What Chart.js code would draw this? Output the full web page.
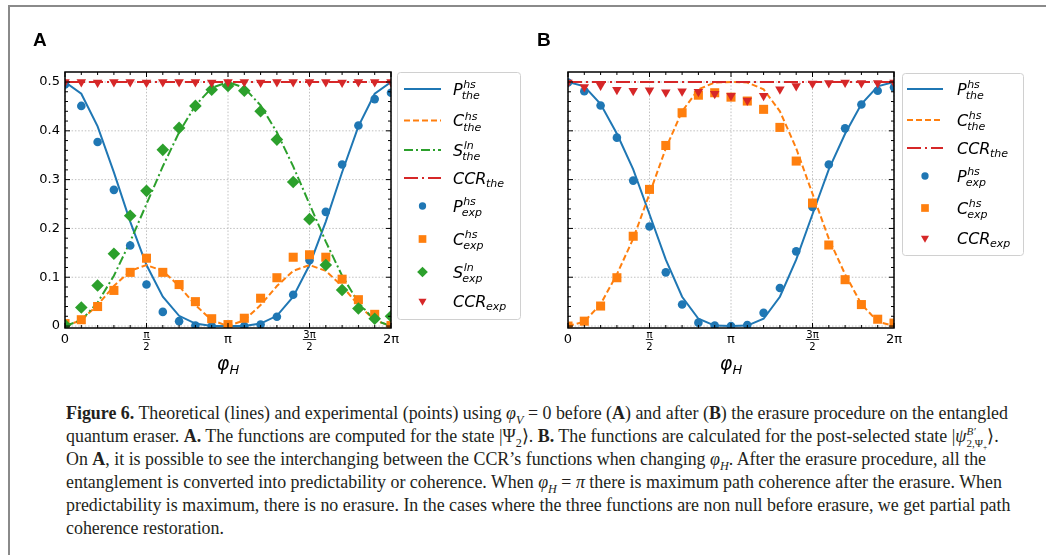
<!DOCTYPE html>
<html>
<head>
<meta charset="utf-8">
<script src="https://cdn.jsdelivr.net/npm/chart.js@4.4.1/dist/chart.umd.min.js"></script>
<style>
  html, body { margin: 0; padding: 0; background: #fff; }
  body { width: 1046px; height: 555px; position: relative; overflow: hidden; }
  #frame { position: absolute; left: 8px; top: 5px; width: 1050px; height: 560px;
           border-left: 2.5px solid #8a8a8a; border-top: 2.5px solid #8a8a8a; }
  #cA { position: absolute; left: 0; top: 0; }
  #cB { position: absolute; left: 530px; top: 0; }
  #caption { position: absolute; left: 66px; top: 402px; font-family: "Liberation Serif", serif;
             font-size: 18px; color: #231f20; }
  #caption .ln { height: 23px; line-height: 23px; white-space: nowrap; }
  #caption .fit { display: inline-block; transform-origin: 0 50%; }
  #caption sub, #caption sup { font-size: 68%; line-height: 0; }
  .stk { display: inline-flex; flex-direction: column; vertical-align: middle; font-size: 62%; line-height: 1.05; }
</style>
</head>
<body>
<div id="frame"></div>
<canvas id="cA" width="530" height="395"></canvas>
<canvas id="cB" width="516" height="395"></canvas>
<div id="caption">
  <div class="ln"><span class="fit"><b>Figure 6.</b> Theoretical (lines) and experimental (points) using <i>φ</i><sub><i>V</i></sub> = 0 before (<b>A</b>) and after (<b>B</b>) the erasure procedure on the entangled</span></div>
  <div class="ln"><span class="fit">quantum eraser. <b>A.</b> The functions are computed for the state |Ψ<sub>2</sub>⟩. <b>B.</b> The functions are calculated for the post-selected state |<i>ψ</i><span class="stk"><i>B′</i><span>2,Ψ<sub>+</sub></span></span>⟩.</span></div>
  <div class="ln"><span class="fit">On <b>A</b>, it is possible to see the interchanging between the CCR’s functions when changing <i>φ</i><sub><i>H</i></sub>. After the erasure procedure, all the</span></div>
  <div class="ln"><span class="fit">entanglement is converted into predictability or coherence. When <i>φ</i><sub><i>H</i></sub> = <i>π</i> there is maximum path coherence after the erasure. When</span></div>
  <div class="ln"><span class="fit">predictability is maximum, there is no erasure. In the cases where the three functions are non null before erasure, we get partial path</span></div>
  <div class="ln"><span class="fit">coherence restoration.</span></div>
</div>
<script>
// phase phi_H, in units of pi
const phi = [0, 0.1, 0.2, 0.3, 0.4, 0.5, 0.6, 0.7, 0.8, 0.9, 1.0,
             1.1, 1.2, 1.3, 1.4, 1.5, 1.6, 1.7, 1.8, 1.9, 2.0];

// --- panel A: before erasure ---
const pTheA = [0.5, 0.476, 0.409, 0.315, 0.214, 0.125, 0.060, 0.021, 0.005, 0.0003, 0,
               0.0003, 0.005, 0.021, 0.060, 0.125, 0.214, 0.315, 0.409, 0.476, 0.5];
const cTheA = [0, 0.012, 0.043, 0.082, 0.113, 0.125, 0.113, 0.082, 0.043, 0.012, 0,
               0.012, 0.043, 0.082, 0.113, 0.125, 0.113, 0.082, 0.043, 0.012, 0];
const sTheA = [0, 0.012, 0.048, 0.103, 0.173, 0.25, 0.327, 0.397, 0.452, 0.488, 0.5,
               0.488, 0.452, 0.397, 0.327, 0.25, 0.173, 0.103, 0.048, 0.012, 0];
const ccrTheA = [0.5, 0.5, 0.5, 0.5, 0.5, 0.5, 0.5, 0.5, 0.5, 0.5, 0.5,
                 0.5, 0.5, 0.5, 0.5, 0.5, 0.5, 0.5, 0.5, 0.5, 0.5];
const pExpA = [0.495, 0.451, 0.377, 0.279, 0.165, 0.085, 0.029, 0.010, 0.001, 0, 0,
               0, 0.003, 0.019, 0.064, 0.135, 0.234, 0.331, 0.411, 0.465, 0.478];
const cExpA = [0.005, 0.013, 0.040, 0.073, 0.110, 0.139, 0.110, 0.085, 0.050, 0.015, 0.003,
               0.016, 0.057, 0.099, 0.141, 0.146, 0.141, 0.096, 0.054, 0.024, 0.001];
const sExpA = [0.002, 0.038, 0.083, 0.148, 0.226, 0.277, 0.361, 0.406, 0.451, 0.484, 0.492,
               0.482, 0.440, 0.382, 0.295, 0.219, 0.125, 0.074, 0.036, 0.015, 0.020];
const ccrExpA = [0.5, 0.5, 0.499, 0.5, 0.5, 0.499, 0.5, 0.5, 0.5, 0.499, 0.5,
                 0.5, 0.499, 0.5, 0.5, 0.5, 0.5, 0.499, 0.5, 0.5, 0.5];

// --- panel B: after erasure ---
const pTheB = [0.5, 0.491, 0.455, 0.394, 0.321, 0.229, 0.136, 0.060, 0.015, 0.001, 0,
               0.001, 0.015, 0.060, 0.136, 0.229, 0.321, 0.394, 0.455, 0.491, 0.5];
const cTheB = [0, 0.009, 0.045, 0.106, 0.179, 0.271, 0.364, 0.440, 0.485, 0.499, 0.5,
               0.499, 0.485, 0.440, 0.364, 0.271, 0.179, 0.106, 0.045, 0.009, 0];
const ccrTheB = [0.5, 0.5, 0.5, 0.5, 0.5, 0.5, 0.5, 0.5, 0.5, 0.5, 0.5,
                 0.5, 0.5, 0.5, 0.5, 0.5, 0.5, 0.5, 0.5, 0.5, 0.5];
const pExpB = [0.499, 0.481, 0.452, 0.386, 0.298, 0.204, 0.110, 0.044, 0.007, 0.001, 0,
               0.002, 0.027, 0.078, 0.153, 0.244, 0.331, 0.405, 0.454, 0.482, 0.489];
const cExpB = [0, 0.010, 0.041, 0.099, 0.184, 0.280, 0.370, 0.437, 0.473, 0.478, 0.469,
               0.461, 0.444, 0.407, 0.338, 0.252, 0.166, 0.095, 0.044, 0.014, 0.006];
const ccrExpB = [0.499, 0.490, 0.493, 0.484, 0.482, 0.483, 0.479, 0.481, 0.480, 0.476, 0.472,
                 0.462, 0.472, 0.485, 0.492, 0.497, 0.498, 0.499, 0.498, 0.498, 0.499];

// axis ticks
const xTicks = [0, 0.5, 1, 1.5, 2];
const xTickLabels = ['0', 'π/2', 'π', '3π/2', '2π'];
const yTicks = [0, 0.1, 0.2, 0.3, 0.4, 0.5];
const yTickLabels = ['0', '0.1', '0.2', '0.3', '0.4', '0.5'];

const BLUE = '#1f77b4', ORANGE = '#ff7f0e', GREEN = '#2ca02c', RED = '#d62728';
const FONT = '"DejaVu Sans", sans-serif';

function lineSet(math, vals, color, dash) {
    return {
        label: math.join(''), math: math,
        data: phi.map((p, i) => ({ x: p, y: vals[i] })),
        showLine: true, borderColor: color, borderWidth: 2, borderDash: dash,
        pointRadius: 0, pointHoverRadius: 0, tension: 0, fill: false
    };
}

function pointSet(math, vals, color, style, r, rot) {
    return {
        label: math.join(''), math: math,
        data: phi.map((p, i) => ({ x: p, y: vals[i] })),
        showLine: false, pointStyle: style, pointRadius: r, pointHoverRadius: r,
        pointRotation: rot || 0, backgroundColor: color, borderColor: color,
        pointBackgroundColor: color, pointBorderWidth: 0
    };
}

// marker for the legend, same shapes as Chart.js point styles
function drawMarker(ctx, ds, x, y, s) {
    const r = ds.pointRadius * s;
    ctx.fillStyle = ds.pointBackgroundColor;
    ctx.beginPath();
    if (ds.pointStyle === 'circle') {
        ctx.arc(x, y, r, 0, Math.PI * 2);
    } else if (ds.pointStyle === 'rect') {
        const h = r * Math.SQRT1_2;
        ctx.rect(x - h, y - h, 2 * h, 2 * h);
    } else if (ds.pointStyle === 'rectRot') {
        ctx.moveTo(x, y - r); ctx.lineTo(x + r, y); ctx.lineTo(x, y + r); ctx.lineTo(x - r, y);
    } else {
        ctx.moveTo(x, y + r); ctx.lineTo(x - r * 0.866, y - r / 2); ctx.lineTo(x + r * 0.866, y - r / 2);
    }
    ctx.closePath();
    ctx.fill();
}

// P^{hs}_{the} style label
function drawMath(ctx, math, x, y) {
    const [main, sup, sub] = math;
    ctx.fillStyle = '#000';
    ctx.textAlign = 'left';
    ctx.textBaseline = 'alphabetic';
    ctx.font = 'oblique 16px ' + FONT;
    ctx.fillText(main, x, y + 5.5);
    const w = ctx.measureText(main).width;
    ctx.font = 'oblique 11px ' + FONT;
    if (sup) {
        ctx.fillText(sup, x + w + 0.5, y - 1);
        ctx.fillText(sub, x + w - 1, y + 10);
    } else {
        ctx.fillText(sub, x + w - 0.5, y + 8.5);
    }
}

const decorPlugin = {
    id: 'decor',
    beforeDatasetsDraw(chart) {
        const { ctx, chartArea: a, scales: { x, y } } = chart;
        ctx.save();
        ctx.strokeStyle = '#b0b0b0';
        ctx.lineWidth = 0.8;
        ctx.setLineDash([1.5, 1.8]);
        xTicks.forEach(v => {
            const px = x.getPixelForValue(v);
            ctx.beginPath(); ctx.moveTo(px, a.top); ctx.lineTo(px, a.bottom); ctx.stroke();
        });
        yTicks.forEach(v => {
            const py = y.getPixelForValue(v);
            ctx.beginPath(); ctx.moveTo(a.left, py); ctx.lineTo(a.right, py); ctx.stroke();
        });
        ctx.restore();
    },
    afterDraw(chart, args, opts) {
        const { ctx, chartArea: a, scales: { x, y } } = chart;
        ctx.save();
        // frame
        ctx.strokeStyle = '#000';
        ctx.lineWidth = 1.5;
        ctx.strokeRect(a.left, a.top, a.width, a.height);

        // inward ticks on all four sides
        ctx.lineWidth = 1;
        phi.forEach(v => {
            const px = x.getPixelForValue(v);
            const len = xTicks.includes(v) ? 5 : 3;
            ctx.beginPath();
            ctx.moveTo(px, a.bottom); ctx.lineTo(px, a.bottom - len);
            ctx.moveTo(px, a.top); ctx.lineTo(px, a.top + len);
            ctx.stroke();
        });
        for (let k = 0; k <= 25; k++) {
            const py = y.getPixelForValue(k * 0.02);
            const len = k % 5 === 0 ? 5 : 3;
            ctx.beginPath();
            ctx.moveTo(a.left, py); ctx.lineTo(a.left + len, py);
            ctx.moveTo(a.right, py); ctx.lineTo(a.right - len, py);
            ctx.stroke();
        }

        // tick labels
        ctx.fillStyle = '#000';
        ctx.textAlign = 'center';
        ctx.textBaseline = 'alphabetic';
        xTicks.forEach((v, i) => {
            const px = x.getPixelForValue(v);
            const t = xTickLabels[i];
            if (t.includes('/')) {
                const [num, den] = t.split('/');
                ctx.font = '10px ' + FONT;
                ctx.fillText(num, px, a.bottom + 9.5);
                ctx.fillText(den, px, a.bottom + 22);
                const w = Math.max(ctx.measureText(num).width, ctx.measureText(den).width) + 1;
                ctx.fillRect(px - w / 2, a.bottom + 11, w, 0.8);
            } else {
                ctx.font = '13px ' + FONT;
                ctx.fillText(t, px, a.bottom + 15);
            }
        });
        if (opts.yLabels) {
            ctx.font = '13px ' + FONT;
            ctx.textAlign = 'right';
            ctx.textBaseline = 'middle';
            yTicks.forEach((v, i) => ctx.fillText(yTickLabels[i], a.left - 5, y.getPixelForValue(v)));
        }

        // axis label phi_H
        ctx.textAlign = 'left';
        ctx.textBaseline = 'alphabetic';
        ctx.font = 'oblique 19px ' + FONT;
        const wPhi = ctx.measureText('φ').width;
        ctx.font = 'oblique 13px ' + FONT;
        const wH = ctx.measureText('H').width;
        const lx = (a.left + a.right) / 2 - (wPhi + wH) / 2;
        ctx.font = 'oblique 19px ' + FONT;
        ctx.fillText('φ', lx, a.bottom + 42);
        ctx.font = 'oblique 13px ' + FONT;
        ctx.fillText('H', lx + wPhi, a.bottom + 46);

        // panel letter
        ctx.font = 'bold 19px "Liberation Sans", sans-serif';
        ctx.fillText(opts.letter, opts.letterX, 46);

        // legend
        const L = opts.legend;
        ctx.beginPath();
        ctx.roundRect(L.x + 0.5, L.y + 0.5, L.w, L.h, 3);
        ctx.fillStyle = 'rgba(255,255,255,0.8)';
        ctx.fill();
        ctx.strokeStyle = '#d0d0d0';
        ctx.lineWidth = 1;
        ctx.stroke();
        chart.data.datasets.forEach((ds, i) => {
            const ry = L.rows[i];
            if (ds.showLine) {
                ctx.strokeStyle = ds.borderColor;
                ctx.lineWidth = ds.borderWidth;
                ctx.setLineDash(ds.borderDash);
                ctx.beginPath(); ctx.moveTo(L.x0, ry); ctx.lineTo(L.x1, ry); ctx.stroke();
                ctx.setLineDash([]);
            } else {
                drawMarker(ctx, ds, (L.x0 + L.x1) / 2, ry, 0.85);
            }
            drawMath(ctx, ds.math, L.tx, ry);
        });
        ctx.restore();
    }
};

function makeChart(id, datasets, padding, decor) {
    datasets.forEach((ds, i) => { ds.order = 20 - i; });
    return new Chart(document.getElementById(id), {
        type: 'scatter',
        data: { datasets: datasets },
        options: {
            responsive: false,
            animation: false,
            events: [],
            layout: { padding: padding },
            scales: {
                x: { type: 'linear', display: false, min: 0, max: 2 },
                y: { type: 'linear', display: false, min: -0.004, max: 0.5205 }
            },
            plugins: { legend: { display: false }, tooltip: { enabled: false }, decor: decor }
        },
        plugins: [decorPlugin]
    });
}

makeChart('cA', [
    lineSet(['P', 'hs', 'the'], pTheA, BLUE, []),
    lineSet(['C', 'hs', 'the'], cTheA, ORANGE, [6, 3]),
    lineSet(['S', 'ln', 'the'], sTheA, GREEN, [9, 3, 2, 3]),
    lineSet(['CCR', '', 'the'], ccrTheA, RED, [14, 4, 2, 4]),
    pointSet(['P', 'hs', 'exp'], pExpA, BLUE, 'circle', 4.3),
    pointSet(['C', 'hs', 'exp'], cExpA, ORANGE, 'rect', 6.4),
    pointSet(['S', 'ln', 'exp'], sExpA, GREEN, 'rectRot', 6.3),
    pointSet(['CCR', '', 'exp'], ccrExpA, RED, 'triangle', 5.5, 180)
], { left: 65, top: 72, right: 139, bottom: 67 }, {
    letter: 'A', letterX: 33, yLabels: true,
    legend: { x: 397, y: 72, w: 123, h: 247, x0: 404, x1: 441, tx: 453,
              rows: [89, 120.5, 150, 178, 206, 239, 272, 301] }
});

makeChart('cB', [
    lineSet(['P', 'hs', 'the'], pTheB, BLUE, []),
    lineSet(['C', 'hs', 'the'], cTheB, ORANGE, [6, 3]),
    lineSet(['CCR', '', 'the'], ccrTheB, RED, [14, 4, 2, 4]),
    pointSet(['P', 'hs', 'exp'], pExpB, BLUE, 'circle', 4.3),
    pointSet(['C', 'hs', 'exp'], cExpB, ORANGE, 'rect', 6.4),
    pointSet(['CCR', '', 'exp'], ccrExpB, RED, 'triangle', 5.5, 180)
], { left: 38, top: 72, right: 152, bottom: 67 }, {
    letter: 'B', letterX: 7, yLabels: false,
    legend: { x: 372, y: 73, w: 121, h: 182, x0: 377, x1: 413, tx: 427,
              rows: [89, 120, 148, 176, 208, 238] }
});

// one horizontal squeeze for the whole caption, taken from its first line
const lines = document.querySelectorAll('#caption .fit');
const squeeze = 942 / lines[0].getBoundingClientRect().width;
lines.forEach(el => { el.style.transform = 'scaleX(' + squeeze + ')'; });
</script>
</body>
</html>
